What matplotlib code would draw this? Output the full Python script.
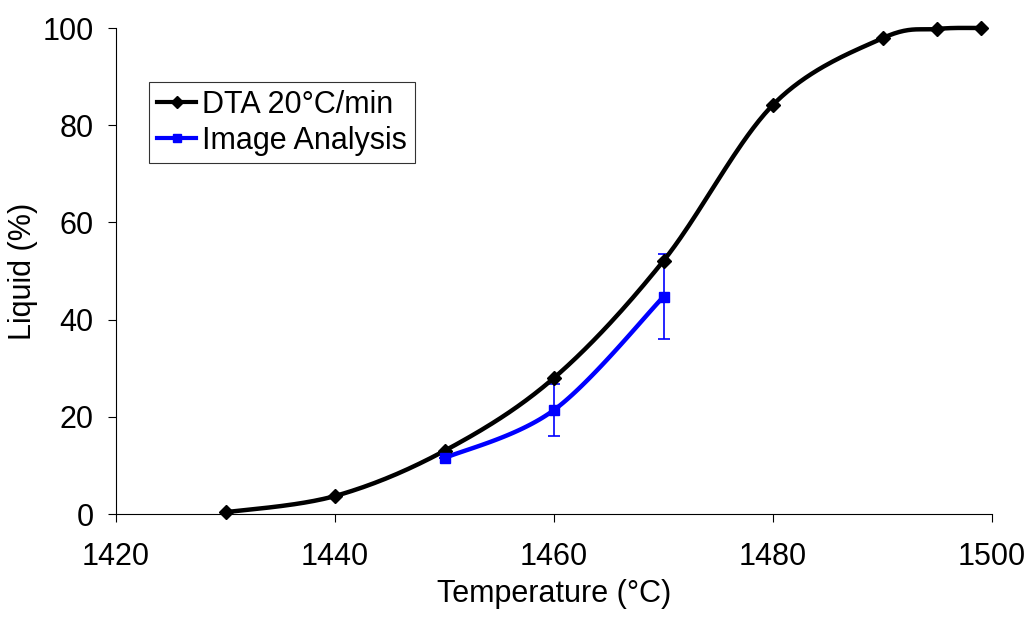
import numpy as np
import matplotlib; matplotlib.use("Agg")
import matplotlib.pyplot as plt
from matplotlib.lines import Line2D

plt.rcParams["font.family"] = ["Liberation Sans", "DejaVu Sans"]

# DTA 20°C/min
dta_t = [1430, 1440, 1450, 1460, 1470, 1480, 1490, 1495, 1499]
dta_liq = [0.35, 3.7, 13.0, 28.0, 52.1, 84.2, 97.9, 99.8, 100.0]
# Image analysis
img_t = [1450, 1460, 1470]
img_liq = [11.5, 21.4, 44.7]
img_err = [0, 5.3, 8.7]


def smooth(x, y, n=40):
    # Excel-style smoothed line (Catmull-Rom through the points)
    x = np.asarray(x, float); y = np.asarray(y, float)
    px = np.concatenate([[x[0]], x, [x[-1]]])
    py = np.concatenate([[y[0]], y, [y[-1]]])
    xs, ys = [], []
    t = np.linspace(0, 1, n)
    for i in range(1, len(px) - 2):
        p0, p1, p2, p3 = (np.array([px[j], py[j]]) for j in range(i - 1, i + 3))
        c1 = p1 + (p2 - p0) / 6
        c2 = p2 - (p3 - p1) / 6
        b = ((1 - t) ** 3)[:, None] * p1 + (3 * (1 - t) ** 2 * t)[:, None] * c1 \
            + (3 * (1 - t) * t ** 2)[:, None] * c2 + (t ** 3)[:, None] * p2
        xs.append(b[:, 0]); ys.append(b[:, 1])
    return np.concatenate(xs), np.concatenate(ys)


FS = 22
fig = plt.figure(figsize=(10.31, 6.17), dpi=100)
ax = fig.add_axes([116 / 1031, 103 / 617, 876 / 1031, 486 / 617])

sx, sy = smooth(dta_t, dta_liq)
ax.plot(sx, sy, color="black", lw=3.2, zorder=3, clip_on=False)
ax.plot(dta_t, dta_liq, ls="none", marker="D", ms=7, color="black", zorder=4, clip_on=False)

bx, by = smooth(img_t, img_liq)
ax.plot(bx, by, color="#0000FF", lw=3.2, zorder=3)
ax.errorbar(img_t, img_liq, yerr=img_err, fmt="none", ecolor="#0000FF",
            elinewidth=1.2, capsize=4, capthick=1.2, zorder=2)
ax.plot(img_t, img_liq, ls="none", marker="s", ms=7, color="#0000FF", zorder=4)

ax.set_xlim(1420, 1500)
ax.set_ylim(0, 100)
ax.set_xticks(range(1420, 1501, 20))
ax.set_yticks(range(0, 101, 20))
for s in ("top", "right"):
    ax.spines[s].set_visible(False)
for s in ("left", "bottom"):
    ax.spines[s].set_linewidth(0.8)
ax.tick_params(direction="out", length=6, width=0.8, labelsize=FS)
ax.tick_params(axis="y", pad=10)
ax.tick_params(axis="x", pad=14)
ax.set_xlabel("Temperature (°C)", fontsize=FS, labelpad=5)
ax.set_ylabel("Liquid (%)", fontsize=FS, labelpad=3)

handles = [
    Line2D([], [], color="black", lw=3, marker="D", ms=6),
    Line2D([], [], color="#0000FF", lw=3, marker="s", ms=6),
]
leg = ax.legend(handles, ["DTA 20°C/min", "Image Analysis"], loc="upper left",
                bbox_to_anchor=((149 - 116) / 876, (514 - 82) / 486),
                fontsize=FS, frameon=True, fancybox=False, borderaxespad=0,
                handlelength=1.3, handletextpad=0.2, borderpad=0.25, labelspacing=0.2)
leg.get_frame().set_edgecolor("black")
leg.get_frame().set_linewidth(0.8)

fig.savefig("out.png", dpi=100)
